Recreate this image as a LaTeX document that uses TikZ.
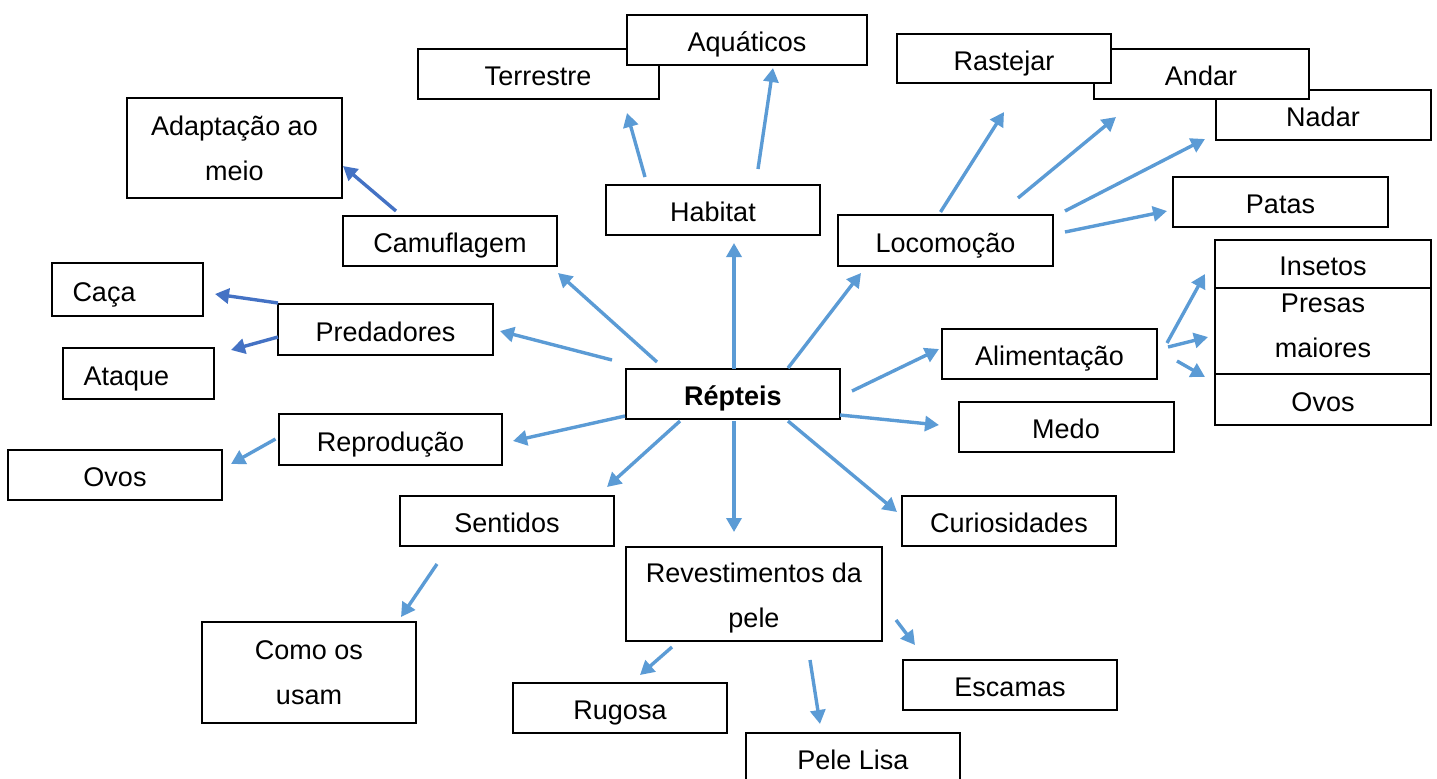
\documentclass[tikz,border=0pt]{standalone}
\usepackage{fontspec}
\setmainfont{Liberation Sans}
\usetikzlibrary{arrows.meta}

\definecolor{arrblue}{RGB}{91,155,213}
\definecolor{darkblue}{RGB}{68,114,196}

\tikzset{
  box/.style={draw, line width=1pt, fill=white, inner sep=0pt,
    minimum width=107pt, minimum height=25pt, align=center,
    font=\fontsize{13.5}{22.5}\selectfont},
  one/.style={text height=11.7pt, text depth=0pt},
  arr/.style={arrblue, line width=1.7pt, -{Triangle[length=7pt,width=7.5pt]}},
  darr/.style={arr, darkblue},
}

\begin{document}
\begin{tikzpicture}[x=0.5pt, y=-0.5pt]
  \useasboundingbox (0,0) rectangle (1437,778);

  % Centre
  \node[box, one] (rep) at (733,394) {\textbf{Répteis}};

  % Upper left
  \node[box, one, minimum width=120.5pt] (terr) at (538,74) {Terrestre};
  \node[box, one, minimum width=120pt] (aqua) at (747,40) {Aquáticos};
  \node[box, one] (hab) at (713,210) {Habitat};
  \node[box, minimum width=107.5pt, minimum height=50pt] (adapt) at (234.5,148) {Adaptação ao\\meio};
  \node[box, one] (camu) at (450,241) {Camuflagem};
  \node[box, one, minimum width=107.5pt, minimum height=25.5pt] (pred) at (385.5,329.5) {Predadores};
  \node[box, one, minimum width=75.5pt, minimum height=26.5pt, text width=55pt, align=left] (caca) at (127.5,289.5) {Caça};
  \node[box, one, minimum width=75.5pt, minimum height=25.5pt, text width=55pt, align=left] (ataque) at (138.5,373.5) {Ataque};
  \node[box, one, minimum width=111.5pt, minimum height=25.5pt] (repro) at (390.5,439.5) {Reprodução};
  \node[box, one] (ovosA) at (115,475) {Ovos};

  % Lower part
  \node[box, one] (sent) at (507,521) {Sentidos};
  \node[box, minimum height=50.5pt] (como) at (309,672.5) {Como os\\usam};
  \node[box, minimum width=128pt, minimum height=47pt] (revest) at (754,594) {\rule{0pt}{13.7pt}Revestimentos da\\pele};
  \node[box, one] (rugosa) at (620,708) {Rugosa};
  \node[box, one] (lisa) at (853,758) {Pele Lisa};
  \node[box, one] (escamas) at (1010,685) {Escamas};
  \node[box, one] (curios) at (1009,521) {Curiosidades};

  % Right side
  \node[box, one, minimum width=107.5pt] (medo) at (1066,427) {Medo};
  \node[box, one, minimum width=107.5pt] (alim) at (1049.5,354) {Alimentação};
  \node[box, one, minimum width=107.5pt, minimum height=25.5pt] (loco) at (945.5,240.5) {Locomoção};
  \node[box, one, minimum width=107.5pt] (patas) at (1280.5,202) {Patas};
  \node[box, one, minimum width=107.5pt] (nadar) at (1323,115) {Nadar};
  \node[box, one, minimum width=107.5pt] (andar) at (1201,74) {Andar};
  \node[box, one, minimum height=24.5pt] (rast) at (1004,58.5) {Rastejar};
  \node[box, one, minimum width=108pt, minimum height=24pt] (insetos) at (1323,264) {Insetos};
  \node[box, minimum width=108pt, minimum height=43pt] (presas) at (1323,331) {Presas\\maiores\rule[-5pt]{0pt}{5pt}};
  \node[box, one, minimum width=108pt, minimum height=25.5pt] (ovosB) at (1323,399.5) {Ovos};

  % Arrow ends
  \coordinate (r1) at (734,369);   \coordinate (h1) at (734,243);
  \coordinate (r2) at (657,362);   \coordinate (c1) at (558,273);
  \coordinate (r3) at (612,360);   \coordinate (p1) at (500,331);
  \coordinate (r4) at (625,416);   \coordinate (rp1) at (513,441);
  \coordinate (r5) at (680,421);   \coordinate (s1) at (607,487);
  \coordinate (r6) at (734,421);   \coordinate (rv1) at (734,532);
  \coordinate (r7) at (788,421);   \coordinate (cu1) at (897,512);
  \coordinate (r8) at (840,415);   \coordinate (m1) at (939,425);
  \coordinate (r9) at (852,391);   \coordinate (al1) at (939,349);
  \coordinate (r10) at (788,368);  \coordinate (l1) at (861,273);
  \coordinate (h2) at (645,177);   \coordinate (t1) at (627,113);
  \coordinate (h3) at (758,169);   \coordinate (aq1) at (773,68);
  \coordinate (c2) at (396,211);   \coordinate (ad1) at (343,166);
  \coordinate (p2) at (278,303);   \coordinate (ca1) at (215,294);
  \coordinate (p3) at (278,337);   \coordinate (at1) at (231,350);
  \coordinate (rp2) at (275.5,439); \coordinate (o1) at (231,464);
  \coordinate (s2) at (437,564);   \coordinate (co1) at (401,617);
  \coordinate (rv2) at (672,647);  \coordinate (ru1) at (640,675);
  \coordinate (rv3) at (810,660);  \coordinate (pl1) at (820,724);
  \coordinate (rv4) at (896,620);  \coordinate (es1) at (915,645);
  \coordinate (l2) at (940.5,212); \coordinate (ra1) at (1004,112);
  \coordinate (l3) at (1018,198);  \coordinate (an1) at (1116,117);
  \coordinate (l4) at (1065,211);  \coordinate (na1) at (1205,139);
  \coordinate (l5) at (1065,232);  \coordinate (pa1) at (1167,211);
  \coordinate (al2) at (1167,343); \coordinate (in1) at (1205,274);
  \coordinate (al3) at (1168,347); \coordinate (pr1) at (1208,337);
  \coordinate (al4) at (1177,361); \coordinate (ov1) at (1205,377);

  % From the centre
  \draw[arr] (r1) -- (h1);
  \draw[arr] (r2) -- (c1);
  \draw[arr] (r3) -- (p1);
  \draw[arr] (r4) -- (rp1);
  \draw[arr] (r5) -- (s1);
  \draw[arr] (r6) -- (rv1);
  \draw[arr] (r7) -- (cu1);
  \draw[arr] (r8) -- (m1);
  \draw[arr] (r9) -- (al1);
  \draw[arr] (r10) -- (l1);

  % Branches
  \draw[arr] (h2) -- (t1);
  \draw[arr] (h3) -- (aq1);
  \draw[darr] (c2) -- (ad1);
  \draw[darr] (p2) -- (ca1);
  \draw[darr] (p3) -- (at1);
  \draw[arr] (rp2) -- (o1);
  \draw[arr] (s2) -- (co1);
  \draw[arr] (rv2) -- (ru1);
  \draw[arr] (rv3) -- (pl1);
  \draw[arr] (rv4) -- (es1);
  \draw[arr] (l2) -- (ra1);
  \draw[arr] (l3) -- (an1);
  \draw[arr] (l4) -- (na1);
  \draw[arr] (l5) -- (pa1);
  \draw[arr] (al2) -- (in1);
  \draw[arr] (al3) -- (pr1);
  \draw[arr] (al4) -- (ov1);

\end{tikzpicture}
\end{document}
